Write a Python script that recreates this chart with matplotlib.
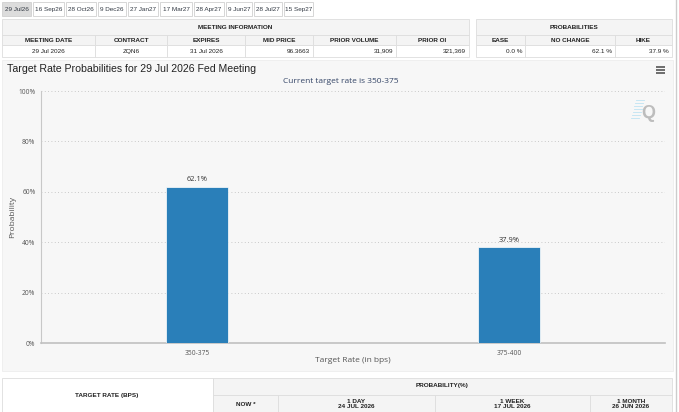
import matplotlib
matplotlib.use("Agg")
import matplotlib.pyplot as plt
from matplotlib.patches import Rectangle

# chart data
target_rates = ["350-375", "375-400"]
probabilities = [62.1, 37.9]
current_rate = "350-375"
meeting_title = "29 Jul 2026"

# meeting tabs
tabs = ["29 Jul26", "16 Sep26", "28 Oct26", "9 Dec26", "27 Jan27",
        "17 Mar27", "28 Apr27", "9 Jun27", "28 Jul27", "15 Sep27"]

# meeting information table
info_cols = ["MEETING DATE", "CONTRACT", "EXPIRES", "MID PRICE", "PRIOR VOLUME", "PRIOR OI"]
info_vals = ["29 Jul 2026", "ZQN6", "31 Jul 2026", "96.3663", "31,909", "321,369"]
prob_cols = ["EASE", "NO CHANGE", "HIKE"]
prob_vals = ["0.0 %", "62.1 %", "37.9 %"]

# bottom table headers
hist_cols = ["NOW *", "1 DAY\n24 JUL 2026", "1 WEEK\n17 JUL 2026", "1 MONTH\n26 JUN 2026"]

W, H = 679, 412
fig = plt.figure(figsize=(W / 100, H / 100), dpi=100)
fig.patch.set_facecolor("white")

# overlay in pixel coords
ov = fig.add_axes([0, 0, 1, 1])
ov.set_xlim(0, W)
ov.set_ylim(H, 0)
ov.axis("off")

TF = "Liberation Sans"
line_c = "#dddddd"


def box(x0, y0, x1, y1, fc="white", ec=line_c, lw=0.6):
    ov.add_patch(Rectangle((x0, y0), x1 - x0, y1 - y0, facecolor=fc, edgecolor=ec, lw=lw))


def txt(x, y, s, size=4.6, ha="center", bold=True, color="#222222", **kw):
    ov.text(x, y, s, fontsize=size, ha=ha, va="center", family=TF,
            fontweight="bold" if bold else "normal", color=color, **kw)


# tabs
tab_x = [2, 33, 66, 98, 128, 160, 194, 226, 254, 284, 315]
for i, t in enumerate(tabs):
    x0, x1 = tab_x[i], tab_x[i + 1] - 2
    box(x0, 2, x1, 16, fc="#dcdcdc" if i == 0 else "white", ec="#d0d0d0")
    txt((x0 + x1) / 2, 9, t, size=4.6, bold=False, color="#333a44")

# meeting info table
ic = [2, 95, 167, 245, 313, 396, 469]
box(ic[0], 19, ic[-1], 35, fc="#f4f4f4")
txt((ic[0] + ic[-1]) / 2, 27, "MEETING INFORMATION")
for i, (c, v) in enumerate(zip(info_cols, info_vals)):
    box(ic[i], 35, ic[i + 1], 45, fc="#f4f4f4")
    box(ic[i], 45, ic[i + 1], 57)
    txt((ic[i] + ic[i + 1]) / 2, 40, c)
    if i in (0, 1, 2):
        txt((ic[i] + ic[i + 1]) / 2, 51, v, bold=False)
    else:
        txt(ic[i + 1] - 3, 51, v, ha="right", bold=False)

pc = [476, 525, 615, 672]
box(pc[0], 19, pc[-1], 35, fc="#f4f4f4")
txt((pc[0] + pc[-1]) / 2, 27, "PROBABILITIES")
for i, (c, v) in enumerate(zip(prob_cols, prob_vals)):
    box(pc[i], 35, pc[i + 1], 45, fc="#f4f4f4")
    box(pc[i], 45, pc[i + 1], 57)
    txt((pc[i] + pc[i + 1]) / 2, 40, c)
    txt(pc[i + 1] - 3, 51, v, ha="right", bold=False)

# chart panel
box(2, 60, 673, 371, fc="#f7f7f7", ec="#eeeeee")
ov.text(7, 69, "Target Rate Probabilities for " + meeting_title + " Fed Meeting",
        fontsize=7.6, family=TF, va="center", ha="left", color="#222222")
ov.text(341, 81, "Current target rate is " + current_rate, fontsize=6.0,
        family="Open Sans", va="center", ha="center", color="#334466")
for dy in (67, 70, 73):
    ov.plot([656, 665], [dy, dy], color="#555555", lw=1.2, solid_capstyle="butt")
# Q watermark
for k in range(7):
    ov.plot([636 - k * 0.8, 644 - k * 0.8], [100 + k * 3, 100 + k * 3], color="#bfe3f3", lw=0.6)
ov.text(648, 113, "Q", fontsize=13, family=TF, fontweight="bold", color="#bdbdbd",
        ha="center", va="center")

# bar chart
ax = fig.add_axes([41 / W, (H - 343) / H, 624 / W, 252 / H])
ax.set_facecolor("none")
x = range(len(target_rates))
bars = ax.bar(x, probabilities, width=0.2, color="#2a7fb9", edgecolor="white", lw=0.5, zorder=3)
for b, p in zip(bars, probabilities):
    ax.text(b.get_x() + b.get_width() / 2, p + 1.2, f"{p:.1f}%", ha="center", va="bottom",
            fontsize=5.4, family="Open Sans", color="#333333", zorder=4)
ax.set_xlim(-0.5, 1.5)
ax.set_ylim(0, 100)
ax.set_yticks([0, 20, 40, 60, 80, 100])
ax.set_yticklabels([f"{v}%" for v in [0, 20, 40, 60, 80, 100]])
ax.set_xticks(list(x))
ax.set_xticklabels(target_rates)
ax.tick_params(axis="both", labelsize=4.8, colors="#555555", length=0, pad=5)
ax.tick_params(axis="y", pad=4)
for lbl in ax.get_xticklabels() + ax.get_yticklabels():
    lbl.set_family("Open Sans")
ax.grid(axis="y", linestyle=(0, (1, 3)), color="#bbbbbb", lw=0.6, zorder=0)
ax.set_axisbelow(True)
for s in ("top", "right"):
    ax.spines[s].set_visible(False)
ax.spines["left"].set_color("#c8c8c8")
ax.spines["left"].set_linewidth(0.8)
ax.spines["bottom"].set_color("#c0c0c0")
ax.spines["bottom"].set_linewidth(1.2)
ax.set_xlabel("Target Rate (in bps)", fontsize=6.0, family="Open Sans", color="#555555")
ax.set_ylabel("Probability", fontsize=6.0, family="Open Sans", color="#555555")
ax.xaxis.set_label_coords(0.5, -14 / 252)
ax.yaxis.set_label_coords(-25 / 624, 0.5)

# bottom table
box(2, 378, 213, 414)
txt(107, 395, "TARGET RATE (BPS)")
box(213, 378, 672, 395, fc="#f4f4f4")
txt(442, 386, "PROBABILITY(%)")
hc = [213, 278, 435, 590, 672]
for i, c in enumerate(hist_cols):
    box(hc[i], 395, hc[i + 1], 414, fc="#f4f4f4")
    txt((hc[i] + hc[i + 1]) / 2, 404, c, linespacing=1.1)

# right edge line
ov.plot([676, 676], [0, H], color="#cccccc", lw=1)

fig.savefig("out.png", dpi=100)
